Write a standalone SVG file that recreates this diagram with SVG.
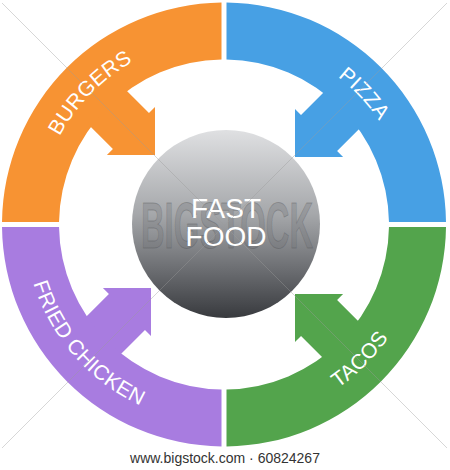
<svg xmlns="http://www.w3.org/2000/svg" xmlns:xlink="http://www.w3.org/1999/xlink" width="450" height="470" viewBox="0 0 450 470">
  <style>
    .label{font-family:"Liberation Sans",Arial,Helvetica,sans-serif;font-size:21px;fill:#ffffff;letter-spacing:0.3px}
    .hubtext{font-family:"Liberation Sans",Arial,Helvetica,sans-serif;font-size:28px;fill:#ffffff;text-anchor:middle}
    .wm{font-family:"Liberation Sans Narrow","Liberation Sans",Arial,sans-serif;font-weight:bold;font-size:64px;fill:#6e7074;fill-opacity:0.28;stroke:#4e5054;stroke-opacity:0.35;stroke-width:1;text-anchor:middle}
    .wmline{stroke:#9a9a9a;stroke-opacity:0.4;stroke-width:1;fill:none}
    .caption{font-family:"Liberation Sans",Arial,Helvetica,sans-serif;font-size:14px;fill:#333333;text-anchor:middle}
    .orange{fill:#f79333}
    .blue{fill:#47a0e4}
    .green{fill:#53a44c}
    .purple{fill:#a87ce0}
  </style>
  <defs>
    <linearGradient id="hubGrad" x1="0" y1="0" x2="0" y2="1">
      <stop offset="0" stop-color="#dfe0e2"/>
      <stop offset="0.45" stop-color="#a5a7aa"/>
      <stop offset="0.75" stop-color="#6a6c70"/>
      <stop offset="1" stop-color="#383a3e"/>
    </linearGradient>
    <path id="arrowShape" d="M0,0 L34,-34 L34,-25.5 L80,-25.5 L80,25.5 L34,25.5 L34,34 Z"/>
    <path id="pBurgers" d="M44.3,274.3 A186.5 186.5 0 0 1 270.7,44"/>
    <path id="pPizza" d="M182,42.8 A186.5 186.5 0 0 1 402.3,279"/>
    <path id="pTacos" d="M173,417.4 A199.5 199.5 0 0 0 416.5,172.2"/>
    <path id="pChicken" d="M35.2,160.2 A199.5 199.5 0 0 0 262.7,420.2"/>
  </defs>

  <rect x="0" y="0" width="450" height="470" fill="#ffffff"/>

  <g id="connectors">
    <use xlink:href="#arrowShape" href="#arrowShape" class="orange" transform="translate(155,155) rotate(225)"/>
    <use xlink:href="#arrowShape" href="#arrowShape" class="blue" transform="translate(295,157) rotate(-45)"/>
    <use xlink:href="#arrowShape" href="#arrowShape" class="green" transform="translate(295,294) rotate(45)"/>
    <use xlink:href="#arrowShape" href="#arrowShape" class="purple" transform="translate(151,288) rotate(135)"/>
  </g>

  <g id="burgers">
    <path class="orange" d="M2.01,222 A222 222 0 0 1 221.5,2.51 L221.5,59.52 A165 165 0 0 0 59.02,222 Z"/>
    <text class="label"><textPath xlink:href="#pBurgers" href="#pBurgers" startOffset="50%" text-anchor="middle">BURGERS</textPath></text>
  </g>

  <g id="pizza">
    <path class="blue" d="M226.5,2.51 A222 222 0 0 1 446,222 L388.98,222 A165 165 0 0 0 226.5,59.52 Z"/>
    <text class="label"><textPath xlink:href="#pPizza" href="#pPizza" startOffset="50%" text-anchor="middle">PIZZA</textPath></text>
  </g>

  <g id="tacos">
    <path class="green" d="M446,227 A222 222 0 0 1 226.5,446.49 L226.5,389.48 A165 165 0 0 0 388.98,227 Z"/>
    <text class="label"><textPath xlink:href="#pTacos" href="#pTacos" startOffset="50%" text-anchor="middle">TACOS</textPath></text>
  </g>

  <g id="fried-chicken">
    <path class="purple" d="M221.5,446.49 A222 222 0 0 1 2.01,227 L59.02,227 A165 165 0 0 0 221.5,389.48 Z"/>
    <text class="label"><textPath xlink:href="#pChicken" href="#pChicken" startOffset="50%" text-anchor="middle">FRIED CHICKEN</textPath></text>
  </g>

  <g id="fast-food">
    <circle cx="226" cy="224" r="94" fill="url(#hubGrad)"/>
    <text class="wm" x="227" y="248" textLength="172" lengthAdjust="spacingAndGlyphs">BIGSTOCK</text>
    <text class="hubtext" x="226" y="218">FAST</text>
    <text class="hubtext" x="226" y="246">FOOD</text>
  </g>

  <g id="watermark">
    <line class="wmline" x1="2" y1="3" x2="447" y2="448"/>
    <line class="wmline" x1="447" y1="3" x2="2" y2="448"/>
    <text class="caption" x="225" y="463">www.bigstock.com · 60824267</text>
  </g>
</svg>
